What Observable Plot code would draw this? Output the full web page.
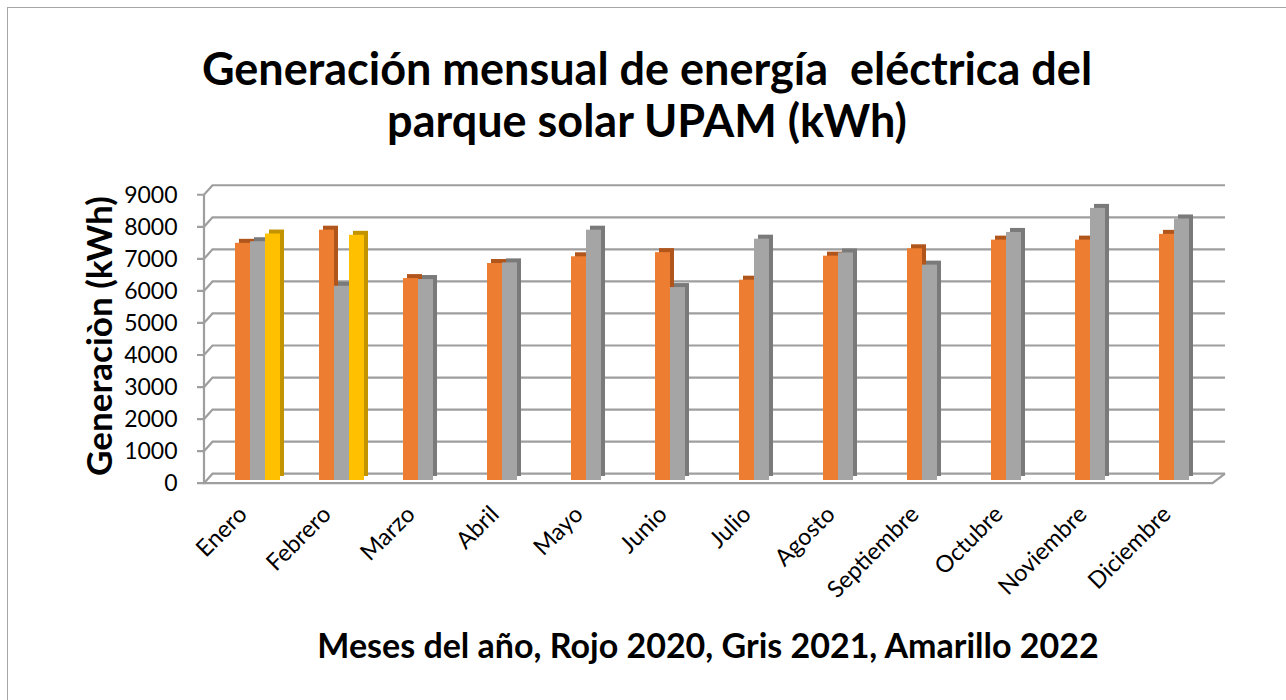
<!DOCTYPE html>
<html>
<head>
<meta charset="utf-8">
<script src="https://cdn.jsdelivr.net/npm/d3@7"></script>
<script src="https://cdn.jsdelivr.net/npm/@observablehq/plot@0.6"></script>
<style>
  html, body { margin: 0; padding: 0; background: #fff; }
  #wrap { position: relative; width: 1286px; height: 700px; overflow: hidden; font-family: Lato, "Open Sans", sans-serif; }
  #border { position: absolute; left: 7px; top: 7px; width: 1300px; height: 720px; border: 1px solid #a6a6a6; box-sizing: border-box; }
  #title { position: absolute; left: 0; width: 1294px; top: 42px; text-align: center; font-weight: 700; font-size: 45px; line-height: 52px; color: #000; }
  #ylabel { position: absolute; left: 98px; top: 336px; transform: translate(-50%, -50%) rotate(-90deg); white-space: nowrap; font-weight: 700; font-size: 35px; color: #000; }
  #xlabel { position: absolute; left: 0; width: 1416px; top: 624px; text-align: center; font-weight: 700; font-size: 34px; color: #000; }
  #chart { position: absolute; left: 0; top: 0; }
</style>
</head>
<body>
<div id="wrap">
  <div id="border"></div>
  <div id="chart"></div>
  <div id="title">Generación mensual de energía&nbsp; eléctrica del<br>parque solar UPAM (kWh)</div>
  <div id="ylabel">Generaciòn (kWh)</div>
  <div id="xlabel">Meses del año, Rojo 2020, Gris 2021, Amarillo 2022</div>
</div>
<script>
const months = ["Enero","Febrero","Marzo","Abril","Mayo","Junio","Julio","Agosto","Septiembre","Octubre","Noviembre","Diciembre"];
const gen2020 = [7400, 7810, 6300, 6770, 6980, 7110, 6250, 7000, 7230, 7500, 7500, 7680];
const gen2021 = [7450, 6060, 6270, 6790, 7810, 6020, 7530, 7100, 6720, 7740, 8490, 8160];
const gen2022 = [7690, 7650];
const yTicks = [0, 1000, 2000, 3000, 4000, 5000, 6000, 7000, 8000, 9000];

const colors = { c2020: "#ED7D31", c2021: "#A5A5A5", c2022: "#FFC000" };
const dark = { c2020: "#B0561C", c2021: "#7A7A7A", c2022: "#C49400" };

const rows = (vals) => vals.map((v, i) => ({ month: months[i], value: v }));
const d2020 = rows(gen2020), d2021 = rows(gen2021), d2022 = rows(gen2022);

const gridColor = "#9e9e9e";
const depthX = 8.5, backDy = -6.3, frontDy = 3.2;

function walls(index, scales, values, dims) {
  const y = scales.y;
  const left = dims.marginLeft - 11.5;
  const right = dims.width - dims.marginRight + 1.5;
  const g = d3.create("svg:g").attr("stroke", gridColor).attr("stroke-width", 2.2).attr("fill", "none");
  for (const t of yTicks) {
    const yy = y(t);
    g.append("path").attr("d", `M${left - 7},${yy + frontDy}H${left}L${left + depthX},${yy + backDy}H${right}`);
  }
  const y0 = y(0), yTop = y(yTicks[yTicks.length - 1]);
  g.append("path").attr("d", `M${left},${yTop + frontDy}V${y0 + frontDy}H${right - 12.5}L${right},${y0 + backDy}`);
  return g.node();
}

function series(data, key, l, r) {
  return [
    Plot.barY(data, { x: "month", y: "value", fill: dark[key], insetLeft: l, insetRight: r, dx: 4, dy: -4 }),
    Plot.barY(data, { x: "month", y: "value", fill: colors[key], insetLeft: l, insetRight: r })
  ];
}

const chart = Plot.plot({
  width: 1286,
  height: 700,
  marginLeft: 215.5,
  marginRight: 62.5,
  marginTop: 191.55,
  marginBottom: 220,
  style: { fontFamily: "Lato, 'Open Sans', sans-serif", background: "transparent" },
  x: { domain: months, paddingInner: 0.464, paddingOuter: 0.232, align: 0.5, label: null },
  y: { domain: [0, 9000], label: null },
  marks: [
    walls,
    ...series(d2020, "c2020", 0, 30),
    ...series(d2021, "c2021", 15, 15),
    ...series(d2022, "c2022", 30, 0),
    Plot.axisY({ ticks: yTicks, tickSize: 0, tickPadding: 38.5, dy: frontDy, fontSize: 23, tickFormat: d => String(d), fill: "#000", label: null }),
    Plot.axisX({ tickSize: 0, tickRotate: -45, tickPadding: 30, dx: -15, fontSize: 23.5, fill: "#000", label: null })
  ]
});
document.getElementById("chart").appendChild(chart);
</script>
</body>
</html>
